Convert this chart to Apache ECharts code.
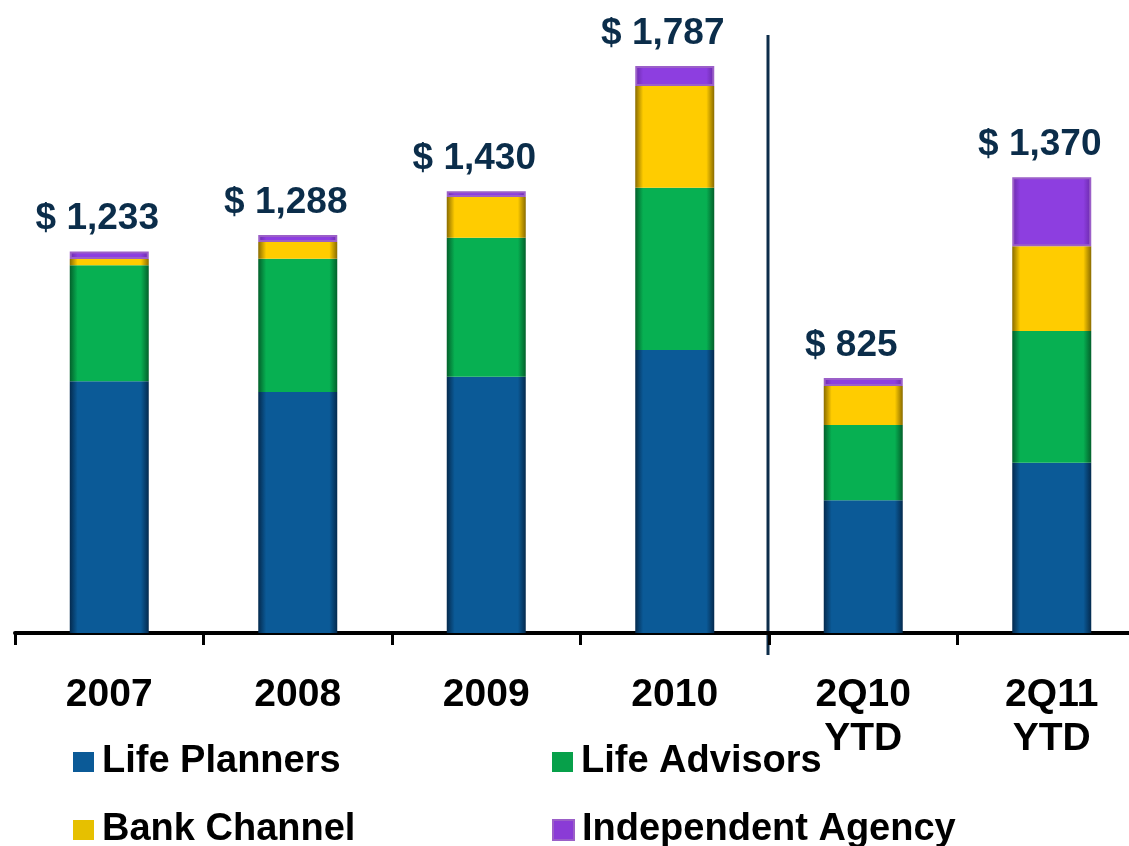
<!DOCTYPE html>
<html>
<head>
<meta charset="utf-8">
<script src="https://cdn.jsdelivr.net/npm/echarts@6/dist/echarts.min.js"></script>
<style>
    html, body { margin: 0; padding: 0; background: #fff; }
    #main { width: 1129px; height: 846px; }
</style>
</head>
<body>
<div id="main"></div>
<script>
var categories = ['2007', '2008', '2009', '2010', '2Q10\nYTD', '2Q11\nYTD'];
var totals = ['1,233', '1,288', '1,430', '1,787', '825', '1,370'];
var lifePlanners = [815, 780, 829, 916, 430, 551];
var lifeAdvisors = [375, 431, 450, 525, 243, 426];
var bankChannel = [20, 54, 132, 329, 126, 275];
var independentAgency = [25, 23, 19, 65, 26, 223];

var font = "'Liberation Sans', Arial, sans-serif";

// darker edges left/right to mimic the bevelled bars
function bevel(edge, mid) {
    return {
        type: 'linear', x: 0, y: 0, x2: 1, y2: 0,
        colorStops: [
            { offset: 0, color: edge },
            { offset: 0.1, color: mid },
            { offset: 0.9, color: mid },
            { offset: 1, color: edge }
        ]
    };
}

function series(name, data, edge, mid, extra) {
    var s = {
        name: name,
        type: 'bar',
        stack: 'total',
        barWidth: 79,
        data: data,
        itemStyle: { color: bevel(edge, mid) }
    };
    for (var k in extra) s[k] = extra[k];
    return s;
}

// one legend per item so the 2x2 layout is fixed
function legendItem(name, color, left, top) {
    return {
        left: left, top: top,
        itemWidth: 21, itemHeight: 20,
        textStyle: { fontFamily: font, fontWeight: 'bold', fontSize: 38, color: '#000', lineHeight: 40, padding: [0, 0, 0, 3] },
        data: [{ name: name, icon: 'rect', itemStyle: { color: color } }]
    };
}

var option = {
    backgroundColor: '#fff',
    animation: false,
    grid: { left: 15, width: 1131, top: 15, bottom: 213, outerBoundsMode: 'none', containLabel: false },
    legend: [
        legendItem('Life Planners', '#0b5a97', 68, 737),
        legendItem('Bank Channel', '#e6c000', 68, 805),
        legendItem('Life Advisors', '#07a04a', 547, 737),
        legendItem('Independent Agency', '#8a3bd6', 547, 805)
    ],
    xAxis: {
        type: 'category',
        data: categories,
        axisLine: { lineStyle: { color: '#000', width: 4 } },
        axisTick: { show: true, length: 12, lineStyle: { color: '#000', width: 3 } },
        axisLabel: {
            margin: 40,
            fontFamily: font, fontWeight: 'bold', fontSize: 39, color: '#000', lineHeight: 44
        }
    },
    yAxis: {
        type: 'value', min: 0, max: 2000, show: false,
        splitLine: { show: false }
    },
    graphic: [
        {
            type: 'line',
            shape: { x1: 768, y1: 35, x2: 768, y2: 655 },
            style: { stroke: '#0d2d4a', lineWidth: 3 }
        }
    ],
    series: [
        series('Life Planners', lifePlanners, '#042a4e', '#0b5a97'),
        series('Life Advisors', lifeAdvisors, '#03602b', '#07b052'),
        series('Bank Channel', bankChannel, '#8a6c00', '#ffcc00'),
        series('Independent Agency', independentAgency, '#6a2aa8', '#8d3ee0', {
            itemStyle: { color: bevel('#6a2aa8', '#8d3ee0'), borderColor: '#9b5fc8', borderWidth: 2 },
            label: {
                show: true,
                position: 'top',
                distance: 14,
                offset: [-12, 0],
                fontFamily: font, fontWeight: 'bold', fontSize: 37, color: '#0b2d4a',
                formatter: function (p) { return '$ ' + totals[p.dataIndex]; }
            }
        })
    ]
};

echarts.init(document.getElementById('main')).setOption(option);
</script>
</body>
</html>
